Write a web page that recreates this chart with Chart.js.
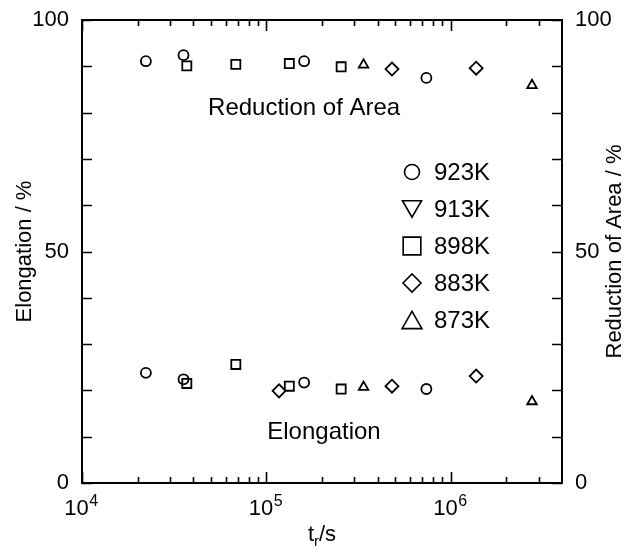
<!DOCTYPE html>
<html>
<head>
<meta charset="utf-8">
<script src="https://cdn.jsdelivr.net/npm/chart.js@4.4.1/dist/chart.umd.min.js"></script>
<style>
  html, body { margin: 0; padding: 0; background: #fff; }
  #wrap { width: 637px; height: 551px; }
</style>
</head>
<body>
<div id="wrap"><canvas id="chart"></canvas></div>
<script>
// rupture time t_r (s) and values (%) per test temperature
const t923 = [2.22e4, 3.55e4, 1.60e5, 7.36e5];
const ra923 = [91.1, 92.4, 91.1, 87.5];
const el923 = [23.8, 22.4, 21.7, 20.3];

const t913 = [];
const ra913 = [];
const el913 = [];

const t898 = [3.70e4, 6.82e4, 1.33e5, 2.54e5];
const ra898 = [90.1, 90.4, 90.6, 89.9];
const el898 = [21.5, 25.6, 20.9, 20.3];

const t883Ra = [4.79e5, 1.37e6];
const ra883 = [89.4, 89.6];
const t883El = [1.17e5, 4.79e5, 1.37e6];
const el883 = [19.9, 20.9, 23.1];

const t873 = [3.36e5, 2.75e6];
const ra873 = [90.3, 85.9];
const el873 = [20.7, 17.6];

const temps = ['923K', '913K', '898K', '883K', '873K'];
const xTickExps = [4, 5, 6];
const yTicks = [0, 50, 100];

const FONT = '"Liberation Sans", Arial, Helvetica, sans-serif';
Chart.defaults.font.family = FONT;
Chart.defaults.color = '#000';

// marker look per temperature (plot / legend)
const marks = {
  '923K': { pointStyle: 'circle', rotation: 0, r: 5, lr: 7.5 },
  '913K': { pointStyle: 'triangle', rotation: 180, r: 5.5, lr: 11 },
  '898K': { pointStyle: 'rect', rotation: 0, r: 6.4, lr: 12.5 },
  '883K': { pointStyle: 'rectRot', rotation: 0, r: 6.5, lr: 9 },
  '873K': { pointStyle: 'triangle', rotation: 0, r: 5.5, lr: 11.5 }
};

function pts(ts, vs) {
  return ts.map((t, i) => ({ x: t, y: vs[i] }));
}

function ds(temp, data, axis) {
  const m = marks[temp];
  return {
    label: temp,
    data: data,
    yAxisID: axis,
    showLine: false,
    pointStyle: m.pointStyle,
    rotation: m.rotation,
    pointRadius: m.r,
    pointBorderWidth: 1.8,
    pointBorderColor: '#000',
    pointBackgroundColor: 'rgba(0,0,0,0)'
  };
}

const datasets = [
  ds('923K', pts(t923, ra923), 'y2'),
  ds('923K', pts(t923, el923), 'y'),
  ds('913K', pts(t913, ra913), 'y2'),
  ds('913K', pts(t913, el913), 'y'),
  ds('898K', pts(t898, ra898), 'y2'),
  ds('898K', pts(t898, el898), 'y'),
  ds('883K', pts(t883Ra, ra883), 'y2'),
  ds('883K', pts(t883El, el883), 'y'),
  ds('873K', pts(t873, ra873), 'y2'),
  ds('873K', pts(t873, el873), 'y')
];

/**
 * Frame, inward ticks, x labels with exponents, titles, notes and legend
 */
const framePlugin = {
  id: 'frame',
  afterDraw(chart) {
    const { ctx, chartArea: a, scales: { x, y } } = chart;
    ctx.save();
    ctx.strokeStyle = '#000';
    ctx.fillStyle = '#000';

    // ticks
    ctx.lineWidth = 1.6;
    ctx.beginPath();
    for (let v = 0; v <= 100; v += 10) {
      const py = Math.round(y.getPixelForValue(v)) + 0.5;
      ctx.moveTo(a.left, py); ctx.lineTo(a.left + 10, py);
      ctx.moveTo(a.right, py); ctx.lineTo(a.right - 10, py);
    }
    for (let d = 4; d <= 6; d++) {
      for (let m = 1; m <= 9; m++) {
        const v = m * Math.pow(10, d);
        if (v >= x.max) break;
        const px = Math.round(x.getPixelForValue(v)) + 0.5;
        const len = m === 1 ? 11 : 6;
        ctx.moveTo(px, a.bottom); ctx.lineTo(px, a.bottom - len);
        ctx.moveTo(px, a.top); ctx.lineTo(px, a.top + len);
      }
    }
    ctx.stroke();

    // frame
    ctx.lineWidth = 2;
    ctx.strokeRect(a.left, a.top, a.right - a.left, a.bottom - a.top);

    // x tick labels 10^n
    ctx.textBaseline = 'alphabetic';
    ctx.textAlign = 'left';
    xTickExps.forEach(e => {
      const px = x.getPixelForValue(Math.pow(10, e));
      ctx.font = '22px ' + FONT;
      const w1 = ctx.measureText('10').width;
      ctx.font = '16px ' + FONT;
      const w2 = ctx.measureText(String(e)).width;
      const start = px - (w1 + w2) / 2 - 1;
      ctx.font = '22px ' + FONT;
      ctx.fillText('10', start, 515);
      ctx.font = '16px ' + FONT;
      ctx.fillText(String(e), start + w1 + 0.5, 506);
    });

    // x title t_r/s
    const cx = (a.left + a.right) / 2;
    ctx.font = '22px ' + FONT;
    const wt = ctx.measureText('t').width;
    const ws = ctx.measureText('/s').width;
    ctx.font = '15px ' + FONT;
    const wr = ctx.measureText('r').width;
    let sx = cx - (wt + wr + ws) / 2;
    ctx.font = '22px ' + FONT;
    ctx.fillText('t', sx, 541);
    ctx.font = '15px ' + FONT;
    ctx.fillText('r', sx + wt, 546);
    ctx.font = '22px ' + FONT;
    ctx.fillText('/s', sx + wt + wr, 541);

    // right title, reading upward
    ctx.save();
    ctx.translate(615, (a.top + a.bottom) / 2);
    ctx.rotate(-Math.PI / 2);
    ctx.textAlign = 'center';
    ctx.textBaseline = 'middle';
    ctx.font = '22px ' + FONT;
    ctx.fillText('Reduction of Area / %', 0, 0);
    ctx.restore();

    // curve notes
    ctx.textAlign = 'center';
    ctx.textBaseline = 'middle';
    ctx.font = '24px ' + FONT;
    ctx.fillText('Reduction of Area', x.getPixelForValue(1.6e5), y.getPixelForValue(81));
    ctx.fillText('Elongation', x.getPixelForValue(2.05e5), y.getPixelForValue(11));

    // legend
    const lx = 412, ly0 = 172, step = 37;
    temps.forEach((temp, i) => {
      const m = marks[temp];
      const py = ly0 + i * step;
      ctx.lineWidth = 1.6;
      ctx.fillStyle = 'rgba(0,0,0,0)';
      let cy = py;
      if (m.pointStyle === 'triangle') cy = py + (m.rotation ? -m.lr / 4 : m.lr / 4);
      Chart.helpers.drawPoint(ctx, {
        pointStyle: m.pointStyle, rotation: m.rotation, radius: m.lr, borderWidth: 1.6
      }, lx, cy);
      ctx.fillStyle = '#000';
      ctx.textAlign = 'left';
      ctx.textBaseline = 'middle';
      ctx.font = '24px ' + FONT;
      ctx.fillText(temp, 434, py + 1);
    });
    ctx.restore();
  }
};

new Chart(document.getElementById('chart'), {
  type: 'scatter',
  data: { datasets },
  options: {
    responsive: true,
    maintainAspectRatio: false,
    animation: false,
    events: [],
    layout: { padding: { top: 20, left: 0, right: 0, bottom: 0 } },
    plugins: { legend: { display: false }, tooltip: { enabled: false } },
    scales: {
      x: {
        type: 'logarithmic',
        min: 1e4,
        max: 4e6,
        grid: { display: false },
        border: { display: false },
        ticks: { display: false },
        afterFit(scale) { scale.height = 68; }
      },
      y: {
        position: 'left',
        min: 0,
        max: 100,
        grid: { display: false },
        border: { display: false },
        ticks: { stepSize: 50, padding: 5, font: { size: 22 }, color: '#000' },
        title: {
          display: true,
          text: 'Elongation / %',
          font: { size: 22 },
          color: '#000',
          padding: { top: 12, bottom: 0 }
        },
        afterFit(scale) { scale.width = 82; }
      },
      y2: {
        position: 'right',
        min: 0,
        max: 100,
        grid: { display: false },
        border: { display: false },
        ticks: { stepSize: 50, padding: 5, font: { size: 22 }, color: '#000' },
        afterFit(scale) { scale.width = 75; }
      }
    }
  },
  plugins: [framePlugin]
});
</script>
</body>
</html>
